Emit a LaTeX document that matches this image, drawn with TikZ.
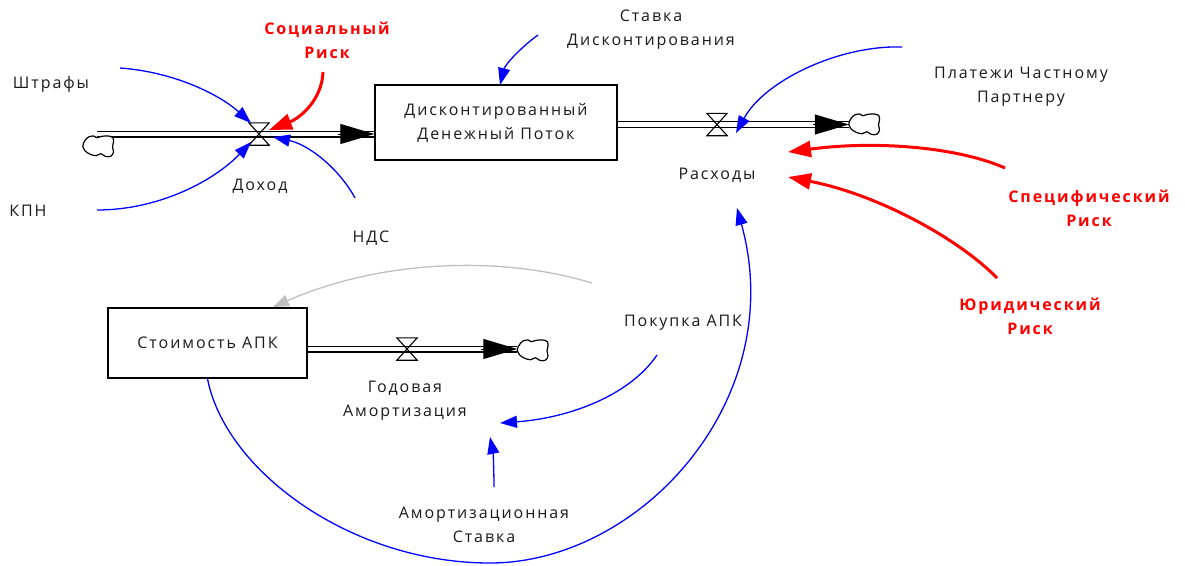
\documentclass[tikz,border=0pt]{standalone}
\usepackage{fontspec}
\setmainfont{Open Sans}[LetterSpace=12]
\usetikzlibrary{arrows.meta,calc}

\definecolor{ink}{HTML}{1A1A1A}
\definecolor{riskred}{HTML}{FF0000}
\definecolor{linkblue}{HTML}{0000FF}
\definecolor{faintgray}{HTML}{BFBFBF}

\tikzset{
  lbl/.style={font=\fontsize{16}{24}\selectfont, text=ink, align=center, inner sep=0pt},
  risk/.style={font=\fontsize{16}{24}\selectfont\bfseries, text=riskred, align=center, inner sep=0pt},
  stock/.style={draw=black, line width=1.3pt, font=\fontsize{16}{24}\selectfont, text=ink, align=center, inner sep=0pt},
  valvebox/.style={minimum width=20pt, minimum height=22pt, inner sep=0pt},
  valveline/.style={draw=black, line width=1.1pt, line join=miter},
  cloudspot/.style={minimum width=31pt, minimum height=22pt, inner sep=0pt},
  srccloud/.pic={
    \draw[black, line width=1.2pt, fill=white] plot[smooth cycle, tension=0.55] coordinates {
      (-13.3,-5.7) (-10,-9) (-5,-10) (-1.7,-8.3) (3.3,-9.7) (10,-10) (14.3,-8.3) (15,-4)
      (14,1) (15,6) (12.3,10.3) (6.7,10.3) (2.3,7.7) (-2.3,9.7) (-8.3,8.3) (-13.3,5)
      (-15.7,0.3) (-15,-3)};
  },
  pipe/.style={draw=black, double=white, double distance=4.2pt, line width=1.4pt},
  flowhead/.style={-{Triangle[length=34pt,width=20pt]}, line width=1pt, black},
  link/.style={draw=linkblue, line width=1.3pt, -{Triangle[length=17pt,width=12pt,fill=linkblue]}},
  riskarrow/.style={draw=riskred, line width=3pt, -{Triangle[length=23pt,width=16pt,fill=riskred]}},
  faint/.style={draw=faintgray, line width=1.3pt, -{Triangle[length=16pt,width=12pt,fill=faintgray]}},
}

\begin{document}
\begin{tikzpicture}[x=1pt,y=-1pt]
\useasboundingbox (0,0) rectangle (1185,565);

% ---- stocks
\node[stock, minimum width=242pt, minimum height=75pt] (dcf) at (496,122.5)
     {Дисконтированный\\Денежный Поток};
\node[stock, minimum width=199pt, minimum height=70pt] (apk) at (207.5,343)
     {Стоимость АПК};

% ---- valves
\node[valvebox] (v1) at (259,134) {};
\node[valvebox] (v2) at (717,124.5) {};
\node[valvebox] (v3) at (407,349) {};

% ---- sources and sinks
\node[cloudspot] (src1) at (98.5,146) {};
\coordinate (pipe1) at (97,134);
\node[cloudspot] (sink2) at (864.5,124) {};
\node[cloudspot] (sink3) at (533,350) {};

% ---- labels
\node[lbl] (shtrafy) at (51,84) {Штрафы};
\node[lbl] (kpn) at (28,211) {КПН};
\node[lbl] (dohod) at (260,186) {Доход};
\node[lbl] (nds) at (371,238) {НДС};
\node[risk] (socrisk) at (327,40) {Социальный\\Риск};
\node[lbl] (stavka) at (651,30) {Ставка\\Дисконтирования};
\node[lbl] (plat) at (1021,87) {Платежи Частному\\Партнеру};
\node[lbl] (rash) at (717,175) {Расходы};
\node[risk] (specrisk) at (1089,208) {Специфический\\Риск};
\node[risk] (urrisk) at (1030,316) {Юридический\\Риск};
\node[lbl] (pokupka) at (683,323) {Покупка АПК};
\node[lbl] (godam) at (405,401) {Годовая\\Амортизация};
\node[lbl] (amst) at (484,525) {Амортизационная\\Ставка};

% ---- flow pipes
\draw[pipe] (pipe1) -- (v1 -| dcf.west);
\draw[flowhead] ($(v1 -| dcf.west)+(-36,0)$) -- (v1 -| dcf.west);
\draw[pipe] (v2 -| dcf.east) -- (v2 -| sink2.west);
\draw[flowhead] ($(v2 -| sink2.west)+(-36,0)$) -- (v2 -| sink2.west);
\draw[pipe] (v3 -| apk.east) -- (v3 -| sink3.west);
\draw[flowhead] ($(v3 -| sink3.west)+(-36,0)$) -- (v3 -| sink3.west);

% ---- clouds at the open ends of the flows
\pic at (src1) {srccloud};
\pic at (sink2) {srccloud};
\pic at (sink3) {srccloud};

% ---- valve bow-ties
\foreach \v in {v1,v2,v3}
  \draw[valveline] (\v.north west) -- (\v.north east) -- (\v.south west) -- (\v.south east) -- cycle;

% ---- connector end points
\coordinate (shtrafy-out) at (120,68);
\coordinate (kpn-out) at (97,210);
\coordinate (nds-out) at (355,198);
\coordinate (soc-out) at (323,72);
\coordinate (stavka-out) at (538,35);
\coordinate (plat-out) at (902,47);
\coordinate (spec-out) at (1005,168);
\coordinate (ur-out) at (997,278);
\coordinate (pok-out) at (657,355);
\coordinate (amst-out) at (494,487);
\coordinate (pok-back) at (592,283);
\coordinate (dohod-in1) at (251,123);
\coordinate (dohod-in2) at (251,142);
\coordinate (dohod-in3) at (273,137);
\coordinate (dohod-in4) at (269,130);
\coordinate (dcf-in) at (500,85);
\coordinate (rash-in1) at (736,133);
\coordinate (rash-in2) at (788,152);
\coordinate (rash-in3) at (788,177);
\coordinate (rash-in4) at (737,208);
\coordinate (godam-in1) at (500,423);
\coordinate (godam-in2) at (490,437);
\coordinate (apk-in) at (273,307);

% ---- information links
\draw[link] (shtrafy-out) .. controls (175,72) and (220,95) .. (dohod-in1);
\draw[link] (kpn-out) .. controls (160,210) and (215,180) .. (dohod-in2);
\draw[link] (nds-out) .. controls (340,170) and (310,145) .. (dohod-in3);
\draw[riskarrow] (soc-out) .. controls (322,100) and (300,118) .. (dohod-in4);
\draw[link] (stavka-out) .. controls (520,48) and (505,65) .. (dcf-in);
\draw[link] (plat-out) .. controls (840,45) and (765,80) .. (rash-in1);
\draw[riskarrow] (spec-out) .. controls (960,148) and (880,140) .. (rash-in2);
\draw[riskarrow] (ur-out) .. controls (960,240) and (880,195) .. (rash-in3);
\draw[link] (apk.south) .. controls (225,470) and (350,563) .. (490,563)
                       .. controls (640,563) and (790,400) .. (rash-in4);
\draw[link] (pok-out) .. controls (630,395) and (570,418) .. (godam-in1);
\draw[link] (amst-out) .. controls (494,470) and (493,452) .. (godam-in2);
\draw[faint] (pok-back) .. controls (500,255) and (380,260) .. (apk-in);
\end{tikzpicture}
\end{document}
